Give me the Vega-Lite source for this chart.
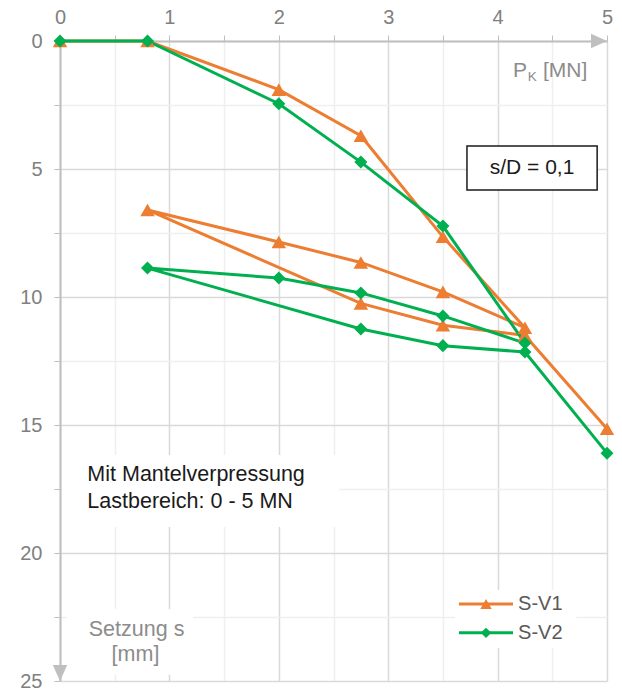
{
  "$schema": "https://vega.github.io/schema/vega-lite/v6.json",
  "width": 547,
  "height": 640,
  "autosize": {"type": "none"},
  "padding": {"left": 60, "top": 41, "right": 15, "bottom": 9},
  "background": "white",
  "config": {"view": {"stroke": null}, "font": "Liberation Sans"},
  "data": {"values": [
    {"s": "S-V1", "i": 1, "P": 0, "v": 0},
    {"s": "S-V1", "i": 2, "P": 0.8, "v": 0},
    {"s": "S-V1", "i": 3, "P": 2, "v": 1.9},
    {"s": "S-V1", "i": 4, "P": 2.75, "v": 3.7},
    {"s": "S-V1", "i": 5, "P": 3.5, "v": 7.65},
    {"s": "S-V1", "i": 6, "P": 4.25, "v": 11.2},
    {"s": "S-V1", "i": 7, "P": 3.5, "v": 9.8},
    {"s": "S-V1", "i": 8, "P": 2.75, "v": 8.65},
    {"s": "S-V1", "i": 9, "P": 2, "v": 7.85},
    {"s": "S-V1", "i": 10, "P": 0.8, "v": 6.6},
    {"s": "S-V1", "i": 11, "P": 2.75, "v": 10.25},
    {"s": "S-V1", "i": 12, "P": 3.5, "v": 11.1},
    {"s": "S-V1", "i": 13, "P": 4.25, "v": 11.5},
    {"s": "S-V1", "i": 14, "P": 5, "v": 15.15},
    {"s": "S-V2", "i": 1, "P": 0, "v": 0},
    {"s": "S-V2", "i": 2, "P": 0.8, "v": 0},
    {"s": "S-V2", "i": 3, "P": 2, "v": 2.45},
    {"s": "S-V2", "i": 4, "P": 2.75, "v": 4.73},
    {"s": "S-V2", "i": 5, "P": 3.5, "v": 7.23},
    {"s": "S-V2", "i": 6, "P": 4.25, "v": 11.8},
    {"s": "S-V2", "i": 7, "P": 3.5, "v": 10.74},
    {"s": "S-V2", "i": 8, "P": 2.75, "v": 9.84},
    {"s": "S-V2", "i": 9, "P": 2, "v": 9.26},
    {"s": "S-V2", "i": 10, "P": 0.8, "v": 8.87},
    {"s": "S-V2", "i": 11, "P": 2.75, "v": 11.25},
    {"s": "S-V2", "i": 12, "P": 3.5, "v": 11.9},
    {"s": "S-V2", "i": 13, "P": 4.25, "v": 12.15},
    {"s": "S-V2", "i": 14, "P": 5, "v": 16.1}
  ]},
  "layer": [
    {
      "data": {"values": [{"k": "box"}]},
      "mark": {"type": "rect", "fill": "white"},
      "encoding": {
        "x": {"datum": 0.02, "type": "quantitative"},
        "x2": {"datum": 2.55},
        "y": {"datum": 16.17, "type": "quantitative"},
        "y2": {"datum": 18.98}
      }
    },
    {
      "data": {"values": [{"k": "box"}]},
      "mark": {"type": "rect", "fill": "white"},
      "encoding": {
        "x": {"datum": 0.06, "type": "quantitative"},
        "x2": {"datum": 1.22},
        "y": {"datum": 22.2, "type": "quantitative"},
        "y2": {"datum": 24.76}
      }
    },
    {
      "data": {"values": [{"k": "box"}]},
      "mark": {"type": "rect", "fill": "white"},
      "encoding": {
        "x": {"datum": 3.61, "type": "quantitative"},
        "x2": {"datum": 4.72},
        "y": {"datum": 21.45, "type": "quantitative"},
        "y2": {"datum": 23.71}
      }
    },
    {
      "data": {"values": [{"k": "box"}]},
      "mark": {"type": "rect", "fill": "white", "stroke": "#1a1a1a", "strokeWidth": 1.5},
      "encoding": {
        "x": {"datum": 3.72, "type": "quantitative"},
        "x2": {"datum": 4.91},
        "y": {"datum": 4.1, "type": "quantitative"},
        "y2": {"datum": 5.82}
      }
    },
    {
      "mark": {"type": "line", "strokeWidth": 3},
      "encoding": {
        "x": {
          "field": "P", "type": "quantitative",
          "scale": {"domain": [0, 5], "nice": false, "zero": false},
          "axis": {
            "orient": "top", "title": null,
            "values": [0, 0.5, 1, 1.5, 2, 2.5, 3, 3.5, 4, 4.5, 5],
            "labelExpr": "datum.value % 1 === 0 ? format(datum.value, 'd') : ''",
            "labelFontSize": 20, "labelColor": "#808080", "labelFont": "Liberation Sans",
            "labelFlush": false, "labelOverlap": false, "labelBound": false,
            "labelPadding": 8,
            "tickSize": 6, "tickColor": "#bfbfbf", "tickWidth": 1,
            "domainColor": "#bfbfbf", "domainWidth": 2,
            "grid": true,
            "gridColor": {"condition": {"test": "datum.value % 1 === 0", "value": "#d9d9d9"}, "value": "#efefef"},
            "gridWidth": 1.5
          }
        },
        "y": {
          "field": "v", "type": "quantitative",
          "scale": {"domain": [0, 25], "nice": false, "zero": false, "reverse": true},
          "axis": {
            "orient": "left", "title": null,
            "values": [0, 2.5, 5, 7.5, 10, 12.5, 15, 17.5, 20, 22.5, 25],
            "labelExpr": "datum.value % 5 === 0 ? format(datum.value, 'd') : ''",
            "labelFontSize": 20, "labelColor": "#808080", "labelFont": "Liberation Sans",
            "labelFlush": false, "labelOverlap": false, "labelBound": false,
            "labelPadding": 12,
            "tickSize": 6, "tickColor": "#bfbfbf", "tickWidth": 1,
            "domainColor": "#bfbfbf", "domainWidth": 2,
            "grid": true,
            "gridColor": {"condition": {"test": "datum.value % 5 === 0", "value": "#d9d9d9"}, "value": "#efefef"},
            "gridWidth": 1.5
          }
        },
        "color": {
          "field": "s", "type": "nominal",
          "scale": {"domain": ["S-V1", "S-V2"], "range": ["#ED7D31", "#00B050"]},
          "legend": null
        },
        "order": {"field": "i", "type": "quantitative"}
      }
    },
    {
      "mark": {"type": "point", "filled": true, "opacity": 1},
      "encoding": {
        "x": {"field": "P", "type": "quantitative"},
        "y": {"field": "v", "type": "quantitative"},
        "color": {"field": "s", "type": "nominal", "legend": null},
        "shape": {
          "field": "s", "type": "nominal",
          "scale": {"domain": ["S-V1", "S-V2"], "range": ["triangle-up", "diamond"]},
          "legend": null
        },
        "size": {
          "field": "s", "type": "nominal",
          "scale": {"domain": ["S-V1", "S-V2"], "range": [210, 170]},
          "legend": null
        }
      }
    },
    {
      "data": {"values": [{"s": "S-V1"}]},
      "mark": {"type": "rule", "strokeWidth": 3},
      "encoding": {
        "x": {"datum": 3.647, "type": "quantitative"},
        "x2": {"datum": 4.141},
        "y": {"datum": 21.99, "type": "quantitative"},
        "color": {"field": "s", "type": "nominal", "legend": null}
      }
    },
    {
      "data": {"values": [{"s": "S-V2"}]},
      "mark": {"type": "rule", "strokeWidth": 3},
      "encoding": {
        "x": {"datum": 3.647, "type": "quantitative"},
        "x2": {"datum": 4.141},
        "y": {"datum": 23.12, "type": "quantitative"},
        "color": {"field": "s", "type": "nominal", "legend": null}
      }
    },
    {
      "data": {"values": [{"s": "S-V1"}]},
      "mark": {"type": "point", "filled": true, "opacity": 1, "size": 130},
      "encoding": {
        "x": {"datum": 3.894, "type": "quantitative"},
        "y": {"datum": 21.99, "type": "quantitative"},
        "color": {"field": "s", "type": "nominal", "legend": null},
        "shape": {"field": "s", "type": "nominal", "legend": null}
      }
    },
    {
      "data": {"values": [{"s": "S-V2"}]},
      "mark": {"type": "point", "filled": true, "opacity": 1, "size": 110},
      "encoding": {
        "x": {"datum": 3.894, "type": "quantitative"},
        "y": {"datum": 23.12, "type": "quantitative"},
        "color": {"field": "s", "type": "nominal", "legend": null},
        "shape": {"field": "s", "type": "nominal", "legend": null}
      }
    },
    {
      "data": {"values": [{"s": "S-V1"}]},
      "mark": {"type": "text", "align": "left", "baseline": "middle", "fontSize": 20, "color": "#595959"},
      "encoding": {
        "x": {"datum": 4.187, "type": "quantitative"},
        "y": {"datum": 21.99, "type": "quantitative"},
        "text": {"field": "s"}
      }
    },
    {
      "data": {"values": [{"s": "S-V2"}]},
      "mark": {"type": "text", "align": "left", "baseline": "middle", "fontSize": 20, "color": "#595959"},
      "encoding": {
        "x": {"datum": 4.187, "type": "quantitative"},
        "y": {"datum": 23.12, "type": "quantitative"},
        "text": {"field": "s"}
      }
    },
    {
      "data": {"values": [{"t": "s/D = 0,1"}]},
      "mark": {"type": "text", "align": "center", "baseline": "middle", "fontSize": 21, "color": "#1a1a1a"},
      "encoding": {
        "x": {"datum": 4.315, "type": "quantitative"},
        "y": {"datum": 4.96, "type": "quantitative"},
        "text": {"field": "t"}
      }
    },
    {
      "data": {"values": [{"t": "Mit Mantelverpressung"}]},
      "mark": {"type": "text", "align": "left", "baseline": "middle", "fontSize": 21.5, "color": "#1a1a1a"},
      "encoding": {
        "x": {"datum": 0.25, "type": "quantitative"},
        "y": {"datum": 16.95, "type": "quantitative"},
        "text": {"field": "t"}
      }
    },
    {
      "data": {"values": [{"t": "Lastbereich: 0 - 5 MN"}]},
      "mark": {"type": "text", "align": "left", "baseline": "middle", "fontSize": 21.5, "color": "#1a1a1a"},
      "encoding": {
        "x": {"datum": 0.25, "type": "quantitative"},
        "y": {"datum": 18.0, "type": "quantitative"},
        "text": {"field": "t"}
      }
    },
    {
      "data": {"values": [{"t": "Setzung s"}]},
      "mark": {"type": "text", "align": "center", "baseline": "middle", "fontSize": 21.5, "color": "#8c8c8c"},
      "encoding": {
        "x": {"datum": 0.7, "type": "quantitative"},
        "y": {"datum": 23.0, "type": "quantitative"},
        "text": {"field": "t"}
      }
    },
    {
      "data": {"values": [{"t": "[mm]"}]},
      "mark": {"type": "text", "align": "center", "baseline": "middle", "fontSize": 21.5, "color": "#8c8c8c"},
      "encoding": {
        "x": {"datum": 0.69, "type": "quantitative"},
        "y": {"datum": 23.98, "type": "quantitative"},
        "text": {"field": "t"}
      }
    },
    {
      "data": {"values": [{"t": "P"}]},
      "mark": {"type": "text", "align": "left", "baseline": "alphabetic", "fontSize": 21, "color": "#8c8c8c"},
      "encoding": {
        "x": {"datum": 4.14, "type": "quantitative"},
        "y": {"datum": 1.41, "type": "quantitative"},
        "text": {"field": "t"}
      }
    },
    {
      "data": {"values": [{"t": "K"}]},
      "mark": {"type": "text", "align": "left", "baseline": "alphabetic", "fontSize": 13.5, "color": "#8c8c8c"},
      "encoding": {
        "x": {"datum": 4.275, "type": "quantitative"},
        "y": {"datum": 1.55, "type": "quantitative"},
        "text": {"field": "t"}
      }
    },
    {
      "data": {"values": [{"t": "[MN]"}]},
      "mark": {"type": "text", "align": "left", "baseline": "alphabetic", "fontSize": 21, "color": "#8c8c8c"},
      "encoding": {
        "x": {"datum": 4.415, "type": "quantitative"},
        "y": {"datum": 1.41, "type": "quantitative"},
        "text": {"field": "t"}
      }
    },
    {
      "data": {"values": [{"k": "arrow"}]},
      "mark": {"type": "point", "filled": true, "opacity": 1, "color": "#bfbfbf", "size": 256, "shape": "M-1,-0.9L1,0L-1,0.9Z", "xOffset": -8},
      "encoding": {
        "x": {"datum": 5, "type": "quantitative"},
        "y": {"datum": 0, "type": "quantitative"}
      }
    },
    {
      "data": {"values": [{"k": "arrow"}]},
      "mark": {"type": "point", "filled": true, "opacity": 1, "color": "#bfbfbf", "size": 256, "shape": "M-0.9,-1L0.9,-1L0,1Z", "yOffset": -8},
      "encoding": {
        "x": {"datum": 0, "type": "quantitative"},
        "y": {"datum": 25, "type": "quantitative"}
      }
    }
  ]
}
